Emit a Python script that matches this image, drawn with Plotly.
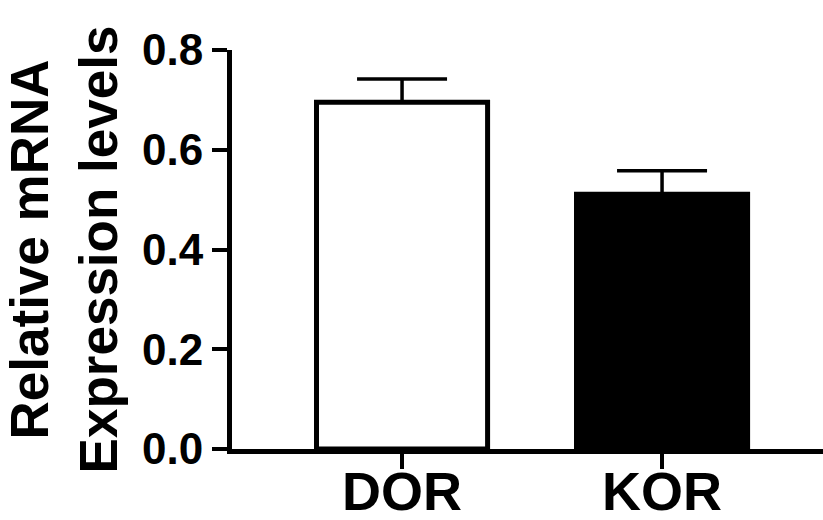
import plotly.graph_objects as go

categories = ["DOR", "KOR"]
values = [0.695, 0.511]
errors_up = [0.047, 0.047]
bar_colors = ["white", "black"]
y_ticks = [0.0, 0.2, 0.4, 0.6, 0.8]
y_tick_labels = ["0.0", "0.2", "0.4", "0.6", "0.8"]
y_title = "Relative mRNA<br>Expression levels"

FONT = "Liberation Sans"

fig = go.Figure()
fig.add_trace(go.Bar(
    x=categories,
    y=values,
    width=0.658,
    marker=dict(color=bar_colors, line=dict(color="black", width=5)),
    error_y=dict(type="data", symmetric=False, array=errors_up,
                 arrayminus=[0, 0], color="black", thickness=3.5, width=45),
    showlegend=False,
))

fig.update_layout(
    width=823, height=520,
    margin=dict(l=232, r=0, t=50, b=71),
    plot_bgcolor="white", paper_bgcolor="white",
    font=dict(family=FONT, color="black", weight="bold"),
    xaxis=dict(
        range=[-0.654, 1.619],
        automargin=False,
        showline=True, linecolor="black", linewidth=5,
        ticks="outside", ticklen=15, tickwidth=4, tickcolor="black",
        tickfont=dict(size=54, family=FONT, weight="bold"),
        ticklabelstandoff=-24,
        showgrid=False, zeroline=False,
    ),
    yaxis=dict(
        range=[0, 0.8],
        automargin=False,
        tickvals=y_ticks, ticktext=y_tick_labels,
        showline=True, linecolor="black", linewidth=5,
        ticks="outside", ticklen=15, tickwidth=4, tickcolor="black",
        tickfont=dict(size=44, family=FONT, weight="bold"),
        showgrid=False, zeroline=False,
        title=dict(text=y_title, font=dict(size=53, family=FONT, weight="bold"),
                   standoff=28),
    ),
)

fig.write_html(
    "out.html",
    config={"displayModeBar": False},
    post_script="document.body.style.margin='0';document.body.style.overflow='hidden';",
)
